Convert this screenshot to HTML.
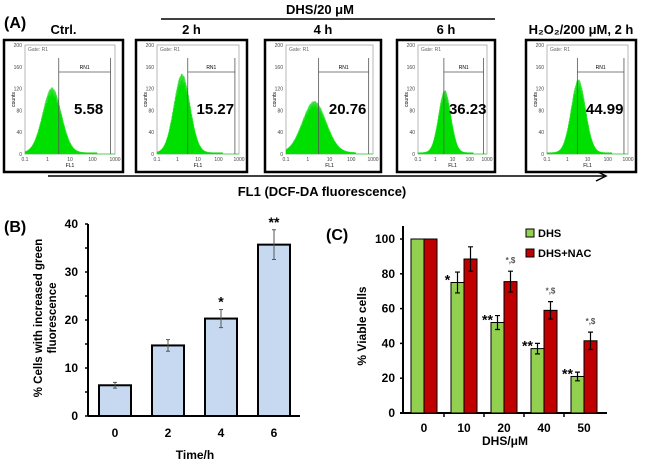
<!DOCTYPE html>
<html><head><meta charset="utf-8"><style>
body{margin:0;background:#fff}
svg text{font-family:"Liberation Sans",sans-serif}
.b{font-weight:bold}
</style></head><body>
<svg id="fig" width="650" height="464" viewBox="0 0 650 464" xmlns="http://www.w3.org/2000/svg">
<g id="pa">
<text x="4" y="28" class="b" font-size="16">(A)</text>
<text x="320" y="14" class="b" font-size="13" text-anchor="middle">DHS/20 μM</text>
<line x1="161" y1="19" x2="495" y2="19" stroke="#000" stroke-width="1.5"/>
<line x1="48" y1="176" x2="604" y2="176" stroke="#000" stroke-width="1.5"/>
<path d="M596,171 L606,176 L596,181" fill="none" stroke="#000" stroke-width="1.5"/>
<text x="322" y="196" class="b" font-size="13" text-anchor="middle">FL1 (DCF-DA fluorescence)</text>
</g>
<g id="pb">
<text x="4" y="232" class="b" font-size="16">(B)</text>
<text transform="translate(42,318) rotate(-90)" class="b" font-size="11.5" text-anchor="middle">% Cells with increased green</text>
<text transform="translate(56,318) rotate(-90)" class="b" font-size="11.5" text-anchor="middle">fluorescence</text>
<text x="195" y="459" class="b" font-size="12" text-anchor="middle">Time/h</text>
</g>
<g id="pc">
<text x="326" y="240" class="b" font-size="16">(C)</text>
<text transform="translate(366,326) rotate(-90)" class="b" font-size="12" text-anchor="middle">% Viable cells</text>
<text x="505" y="445" class="b" font-size="12" text-anchor="middle">DHS/μM</text>
<rect x="526" y="229" width="8" height="8" fill="#92d050" stroke="#000" stroke-width="1"/>
<text x="538" y="237" class="b" font-size="11">DHS</text>
<rect x="526" y="249" width="8" height="8" fill="#c00000" stroke="#000" stroke-width="1"/>
<text x="538" y="257" class="b" font-size="11">DHS+NAC</text>
</g>
</svg>
<script>
// Panel A data
const histLabels=["Ctrl.","2 h","4 h","6 h","H\u2082O\u2082/200 μM, 2 h"];
const histValues=["5.58","15.27","20.76","36.23","44.99"];
const histPeakLog=[0.2,0.22,0.3,0.55,0.55];
const histPeakHeight=[120,145,95,115,135];
const histWidth=[0.42,0.4,0.55,0.36,0.36];
// Panel B data
const timeCats=["0","2","4","6"];
const greenVals=[6.4,14.7,20.3,35.7];
const greenErr=[0.6,1.2,1.9,3.1];
const greenSig=["","","*","**"];
const bTicks=[0,10,20,30,40];
// Panel C data
const doseCats=["0","10","20","40","50"];
const dhsVals=[100,75,52,37,21];
const dhsErr=[0,6,4,3,2.5];
const nacVals=[100,88.5,75.5,59,41.5];
const nacErr=[0,7,6,5,5];
const dhsSig=["","*","**","**","**"];
const nacSig=["","","*,$","*,$","*,$"];
const cTicks=[0,20,40,60,80,100];

const NS="http://www.w3.org/2000/svg";
function mk(parent,tag,attrs,txt){const e=document.createElementNS(NS,tag);for(const k in attrs)e.setAttribute(k,attrs[k]);if(txt!==undefined)e.textContent=txt;parent.appendChild(e);return e;}

// ---- Panel A
const pa=document.getElementById('pa');
const boxX=[4,136,265,397,526], boxW=[119,111,116,98,110];
histLabels.forEach((lab,i)=>{
  const bx=boxX[i],bw=boxW[i],by=40,bh=132;
  const g=mk(pa,'g',{});
  
  
  const t=mk(g,'text',{x:bx+bw/2,y:34,'font-size':13,'font-weight':'bold','text-anchor':'middle'},lab);
  
  
  mk(g,'rect',{x:bx,y:by,width:bw,height:bh,fill:'#fff',stroke:'#000','stroke-width':2.5});
  const x0=bx+21,x1=bx+bw-8,y0=45,y1=154;
  const sx=v=>x0+(v+1)/4*(x1-x0), sy=c=>y1-c/200*(y1-y0);
  mk(g,'rect',{x:x0,y:y0,width:x1-x0,height:y1-y0,fill:'none',stroke:'#999','stroke-width':0.7});
  mk(g,'text',{x:x0+3,y:y0+6,'font-size':5,fill:'#666'},'Gate: R1');
  [0,40,80,120,160,200].forEach(c=>{mk(g,'text',{x:x0-3,y:sy(c)+2,'font-size':5,'text-anchor':'end',fill:'#444'},c);});
  ["0.1","1","10","100","1000"].forEach((l,k)=>{mk(g,'text',{x:sx(k-1),y:y1+7,'font-size':5,'text-anchor':'middle',fill:'#444'},l);});
  mk(g,'text',{x:(x0+x1)/2,y:y1+13,'font-size':5,'text-anchor':'middle'},'FL1');
  mk(g,'text',{transform:`translate(${x0-10},${sy(100)}) rotate(-90)`,'font-size':5,'text-anchor':'middle'},'counts');
  let d=`M${x0},${y1}`;
  for(let v=-1;v<=3;v+=0.01){
    const z=(v-histPeakLog[i])/histWidth[i];
    let c=histPeakHeight[i]*Math.exp(-z*z/2);
    c=c*(0.85+0.15*Math.abs(Math.sin(v*97)))+ (v<2.2?2.5:0);
    d+=` L${sx(v).toFixed(1)},${sy(c).toFixed(1)}`;
  }
  d+=` L${x1},${y1} Z`;
  mk(g,'path',{d:d,fill:'#00e000',stroke:'#22dd22','stroke-width':0.4});
  const m=sx(0.5),mr=sx(2.8);
  mk(g,'path',{d:`M${m},${y1} V58 M${m},72 H${mr} M${mr},58 V${y1}`,fill:'none',stroke:'#555','stroke-width':0.8});
  mk(g,'text',{x:(m+mr)/2,y:69,'font-size':5,'text-anchor':'middle'},'RN1');
  const vt=mk(g,'text',{x:(m+mr)/2+4,y:114,'font-size':15,'font-weight':'bold','text-anchor':'middle'},histValues[i]);
  
  
});

// ---- Panel B
const pb=document.getElementById('pb');
const bY=v=>416-v*4.8, bX=i=>115+i*53;
mk(pb,'line',{x1:88,y1:bY(40),x2:88,y2:416,stroke:'#000','stroke-width':2});
mk(pb,'line',{x1:88,y1:416,x2:300,y2:416,stroke:'#000','stroke-width':2});
for(let t=0;t<=40;t+=5)mk(pb,'line',{x1:85,y1:bY(t),x2:88,y2:bY(t),stroke:'#000','stroke-width':1.5});
bTicks.forEach(t=>{mk(pb,'text',{x:78,y:bY(t)+4,'font-size':12,'font-weight':'bold','text-anchor':'end'},t);});
timeCats.forEach((c,i)=>{
  const r=mk(pb,'rect',{x:bX(i)-16,y:bY(greenVals[i]),width:32,height:416-bY(greenVals[i]),fill:'#c6d9f1',stroke:'#000','stroke-width':2});
  
  
  const x=bX(i),yt=bY(greenVals[i]+greenErr[i]),yb=bY(greenVals[i]-greenErr[i]);
  mk(pb,'path',{d:`M${x},${yt}V${yb}M${x-2},${yt}H${x+2}M${x-2},${yb}H${x+2}`,stroke:'#555','stroke-width':1,fill:'none'});
  if(greenSig[i])mk(pb,'text',{x:x,y:yt-3,'font-size':14,'font-weight':'bold','text-anchor':'middle'},greenSig[i]);
  mk(pb,'text',{x:x,y:437,'font-size':12,'font-weight':'bold','text-anchor':'middle'},c);
});

// ---- Panel C
const pc=document.getElementById('pc');
const cY=v=>413-v*1.74, cX=i=>424+i*40;
mk(pc,'line',{x1:403,y1:226,x2:403,y2:413,stroke:'#000','stroke-width':2});
mk(pc,'line',{x1:400,y1:413,x2:607,y2:413,stroke:'#000','stroke-width':2});
cTicks.forEach(t=>{mk(pc,'line',{x1:400,y1:cY(t),x2:403,y2:cY(t),stroke:'#000','stroke-width':1.5});
  mk(pc,'text',{x:395,y:cY(t)+4,'font-size':12,'font-weight':'bold','text-anchor':'end'},t);});
doseCats.forEach((c,i)=>{
  if(i>0)mk(pc,'line',{x1:cX(i)-20,y1:413,x2:cX(i)-20,y2:417,stroke:'#000','stroke-width':1.5});
  const x=cX(i);
  [[dhsVals,dhsErr,dhsSig,'#92d050',-6.5,'dhs'],[nacVals,nacErr,nacSig,'#c00000',6.5,'nac']].forEach(([vals,err,sig,col,off,nm])=>{
    const cx=x+off;
    const r=mk(pc,'rect',{x:cx-6.5,y:cY(vals[i]),width:13,height:413-cY(vals[i]),fill:col,stroke:'#000','stroke-width':1});
    
    
    if(err[i]>0){const yt=cY(vals[i]+err[i]),yb=cY(vals[i]-err[i]);
      mk(pc,'path',{d:`M${cx},${yt}V${yb}M${cx-2.5},${yt}H${cx+2.5}M${cx-2.5},${yb}H${cx+2.5}`,stroke:'#000','stroke-width':1.2,fill:'none'});}
    if(sig[i]){const big=sig[i].indexOf('$')<0;
      mk(pc,'text',{x:nm==='dhs'?cx-10:cx,y:nm==='dhs'?cY(vals[i])+2:cY(vals[i]+err[i])-8,'font-size':big?14:8,'font-weight':'bold','text-anchor':'middle',fill:big?'#000':'#555'},sig[i]);}
  });
  mk(pc,'text',{x:x,y:432,'font-size':12,'font-weight':'bold','text-anchor':'middle'},c);
});
</script>
</body></html>
